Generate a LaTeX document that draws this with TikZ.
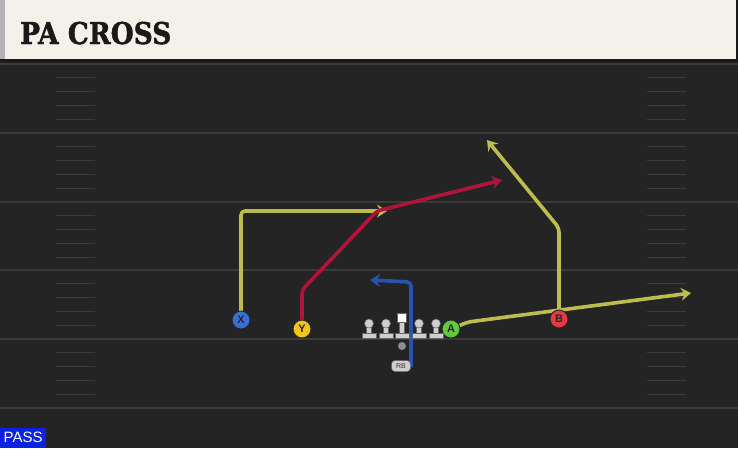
\documentclass[tikz,border=0pt]{standalone}
\usepackage{fontspec}
\setmainfont{Liberation Sans}
\newfontfamily\titlefont[BoldFeatures={FakeBold=1.6}]{DejaVu Serif}
\usetikzlibrary{arrows.meta}
\pgfdeclarelayer{field}
\pgfdeclarelayer{routes}
\pgfsetlayers{field,routes,main}
\definecolor{bgdark}{HTML}{242424}
\definecolor{yardline}{HTML}{3A3A3A}
\definecolor{hashcol}{HTML}{3A3A3A}
\definecolor{cream}{HTML}{F4F1EA}
\definecolor{olive}{HTML}{BCBD4C}
\definecolor{crimson}{HTML}{B3133B}
\definecolor{routeblue}{HTML}{2A52B0}
\definecolor{xblue}{HTML}{3A6FD8}
\definecolor{yyellow}{HTML}{F0C419}
\definecolor{agreen}{HTML}{5FCB3A}
\definecolor{bred}{HTML}{E23B44}
\definecolor{olgray}{HTML}{CFCFCF}
\definecolor{passblue}{HTML}{0B22E0}
\tikzset{
  player/.style={circle, draw=black!85, line width=0.9pt, minimum size=18pt, inner sep=0pt,
    font=\bfseries\fontsize{11}{11}\selectfont, text=black!85},
  route/.style={line width=3.6pt, line join=round, rounded corners=4pt,
    -{Stealth[length=10pt,width=13pt,inset=3.5pt]}},
  blkpart/.style={fill=olgray, draw=black!60, line width=0.5pt},
  blocker/.pic={
    \path[blkpart] (-7,-4.5) rectangle (7,0);
    \path[blkpart] (-2.5,-12.5) rectangle (2.5,-4.5);
    \path[blkpart] (0,-14.5) circle (4.5);
  },
  centerblk/.pic={
    \path[blkpart] (-7,-4.5) rectangle (7,0);
    \path[blkpart] (-2.5,-15.5) rectangle (2.5,-4.5);
    \path[blkpart, fill=white] (-4.5,-24.5) rectangle (4.5,-15.5);
  }
}
\begin{document}
\begin{tikzpicture}[x=1pt,y=-1pt]
\useasboundingbox (0,0) rectangle (738,448);
\begin{pgfonlayer}{field}
\fill[bgdark] (0,0) rectangle (738,448);
\foreach \yy in {64,133,202,270,339,408}
  \draw[yardline, line width=2pt] (0,\yy) -- (738,\yy);
\foreach \band in {64,133,202,270,339}
  \foreach \k in {1,2,3,4}{
    \draw[hashcol, line width=1.3pt] (56,\band+13.8*\k) -- (95,\band+13.8*\k);
    \draw[hashcol, line width=1.3pt] (647,\band+13.8*\k) -- (686,\band+13.8*\k);
  }
\fill[black!90] (0,0) rectangle (738,62);
\fill[cream] (0,0) rectangle (736,59);
\fill[black!30] (0,0) rectangle (5,59);
\end{pgfonlayer}
\node[anchor=base west, inner sep=0pt, text=black!90] (title) at (20,44)
  {\scalebox{0.88}[1]{\titlefont\bfseries\fontsize{30}{30}\selectfont PA CROSS}};
% players
\node[player, fill=xblue] (X) at (241,320) {X};
\node[player, fill=yyellow] (Y) at (302,329) {Y};
\node[player, fill=agreen] (A) at (451,329) {A};
\node[player, fill=bred] (B) at (559,319) {B};
\node[circle, fill=black!45, minimum size=8pt, inner sep=0pt] (QB) at (402,346) {};
\node[rounded corners=3.5pt, fill=olgray, draw=black!60, line width=0.5pt, minimum width=19pt,
  minimum height=11pt, inner sep=0pt, font=\fontsize{7}{7}\selectfont, text=black!80] (RB) at (401,366) {RB};
% offensive line
\pic at (369,338) {blocker};
\pic at (386,338) {blocker};
\pic at (402,338) {centerblk};
\pic at (419,338) {blocker};
\pic at (436,338) {blocker};
% route waypoints
\coordinate (xc) at (241,211);
\coordinate (xe) at (387,211);
\coordinate (yc1) at (302,290);
\coordinate (yc2) at (377,211);
\coordinate (ye) at (502,180);
\coordinate (ac) at (468,322);
\coordinate (ae) at (691,293);
\coordinate (bc) at (559,228);
\coordinate (be) at (487,140);
\coordinate (rbs) at (411,367);
\coordinate (rbc) at (411,282);
\coordinate (rbe) at (370,280);
\begin{pgfonlayer}{routes}
\draw[route, olive] (X.center) -- (xc) -- (xe);
\draw[route, crimson] (Y.center) -- (yc1) -- (yc2) -- (ye);
\draw[route, olive] (A.center) -- (ac) -- (ae);
\draw[route, olive] (B.center) -- (bc) -- (be);
\draw[route, routeblue] (rbs) -- (rbc) -- (rbe);
\end{pgfonlayer}
\node[fill=passblue, text=white, anchor=south west, minimum width=46pt, minimum height=20pt,
  inner sep=0pt, font=\fontsize{15}{15}\selectfont] (tag) at (0,448) {PASS};
\end{tikzpicture}
\end{document}
